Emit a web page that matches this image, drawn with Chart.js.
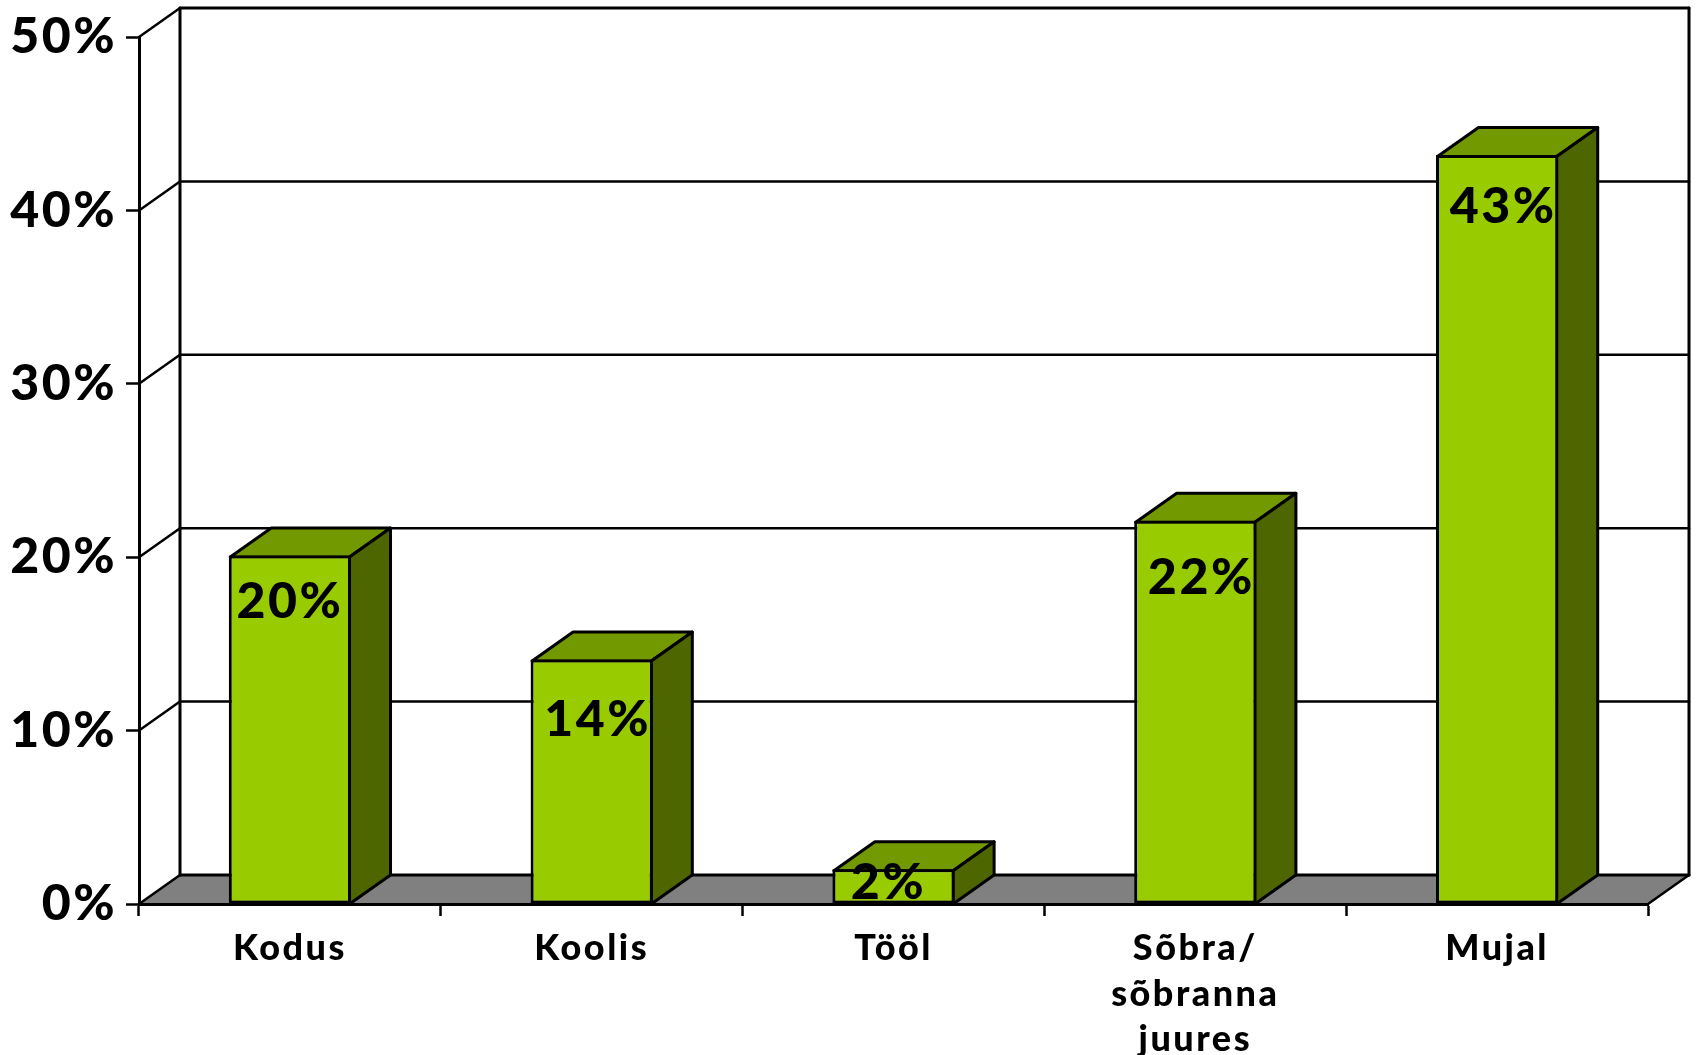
<!DOCTYPE html>
<html>
<head>
<meta charset="utf-8">
<style>html,body{margin:0;padding:0;background:#fff;overflow:hidden}canvas{display:block}</style>
<script src="https://cdn.jsdelivr.net/npm/chart.js@4"></script>
</head>
<body>
<canvas id="c" width="1698" height="1055"></canvas>
<script>
const categories = ['Kodus','Koolis','Tööl',['Sõbra/','sõbranna','juures'],'Mujal'];
const shares = [20.1,14.1,2,22.1,43.2];
const yTicks = [0,10,20,30,40,50];
// hand-placed label offsets of the reference, relative to the bar's centre and top
const labelNudgeX = [0,6,-5,6,6];
const labelNudgeY = [46,60,14,57,52];

const DEPTH_X = 41, DEPTH_Y = -29;
const FONT = '"Lato","Noto Sans",sans-serif';

function poly(ctx, pts, fill, lw){
  ctx.beginPath();
  pts.forEach((p,i)=> i ? ctx.lineTo(p[0],p[1]) : ctx.moveTo(p[0],p[1]));
  ctx.closePath();
  if(fill){ctx.fillStyle=fill;ctx.fill();}
  if(lw){ctx.lineWidth=lw;ctx.strokeStyle='#000';ctx.lineJoin='round';ctx.stroke();}
}
function seg(ctx,x1,y1,x2,y2,lw){
  ctx.beginPath();ctx.moveTo(x1,y1);ctx.lineTo(x2,y2);ctx.lineWidth=lw;ctx.strokeStyle='#000';ctx.lineCap='round';ctx.stroke();
}

const box3d = {
  id:'box3d',
  beforeDraw(chart){
    const ctx=chart.ctx, a=chart.chartArea, y=chart.scales.y;
    const dx=DEPTH_X, dy=DEPTH_Y;
    ctx.save();
    ctx.fillStyle='#fff';ctx.fillRect(0,0,chart.width,chart.height);
    // floor
    poly(ctx,[[a.left,a.bottom],[a.left+dx,a.bottom+dy],[a.right+dx,a.bottom+dy],[a.right,a.bottom]],'#808080',0);
    // back wall grid and slanted side-wall lines
    yTicks.forEach(v=>{
      const p=y.getPixelForValue(v);
      const thick=(v===0||v===50);
      seg(ctx,a.left+dx,p+dy,a.right+dx,p+dy,thick?3:2.5);
      seg(ctx,a.left,p,a.left+dx,p+dy,2.5);
    });
    seg(ctx,a.left+dx,a.top+dy,a.left+dx,a.bottom+dy,3);
    seg(ctx,a.right+dx,a.top+dy,a.right+dx,a.bottom+dy,3);
    seg(ctx,a.right,a.bottom,a.right+dx,a.bottom+dy,2.5);
    // bar top and side faces
    chart.getDatasetMeta(0).data.forEach(b=>{
      const l=b.x-b.width/2+1.5, r=b.x+b.width/2-1.5, t=b.y+1.5, base=a.bottom;
      poly(ctx,[[l,t],[l+dx,t+dy],[r+dx,t+dy],[r,t]],'#739900',3);
      poly(ctx,[[r,t],[r+dx,t+dy],[r+dx,base+dy],[r,base]],'#4D6600',3);
    });
    ctx.restore();
    ctx.letterSpacing='2.5px';
  },
  afterDatasetsDraw(chart){
    const ctx=chart.ctx;
    ctx.save();
    ctx.font='900 50px '+FONT;
    ctx.fillStyle='#000';ctx.textAlign='center';ctx.textBaseline='middle';
    chart.getDatasetMeta(0).data.forEach((b,i)=>{
      ctx.fillText(Math.round(shares[i])+'%',b.x+labelNudgeX[i],b.y+labelNudgeY[i]);
    });
    ctx.restore();
  }
};

new Chart(document.getElementById('c'),{
  type:'bar',
  data:{labels:categories,datasets:[{
    data:shares,
    backgroundColor:'#99CC00',
    borderColor:'#000',
    borderWidth:3,
    borderSkipped:false,
    barPercentage:1,
    categoryPercentage:0.405
  }]},
  options:{
    responsive:false,
    animation:false,
    layout:{padding:{top:37,right:50,left:0,bottom:0}},
    plugins:{legend:{display:false},tooltip:{enabled:false}},
    scales:{
      x:{
        afterFit(s){s.height=151;s.paddingLeft=0;s.paddingRight=0;},
        border:{display:true,color:'#000',width:3},
        grid:{offset:true,drawOnChartArea:false,drawTicks:true,tickLength:12,tickColor:'#000',tickWidth:2.5,color:'#000'},
        ticks:{color:'#000',font:{family:FONT,size:36,weight:'900',lineHeight:1.26},padding:10,maxRotation:0,minRotation:0,autoSkip:false}
      },
      y:{
        min:0,max:50,
        afterFit(s){s.width=139;s.paddingTop=0;s.paddingBottom=0;},
        afterBuildTicks(s){s.ticks=yTicks.map(v=>({value:v}));},
        border:{display:true,color:'#000',width:3},
        grid:{drawOnChartArea:false,drawTicks:true,tickLength:13,tickColor:'#000',tickWidth:2.5,color:'#000'},
        ticks:{color:'#000',font:{family:FONT,size:50,weight:'900'},padding:9,callback:v=>v+'%'}
      }
    }
  },
  plugins:[box3d]
});
</script>
</body>
</html>
